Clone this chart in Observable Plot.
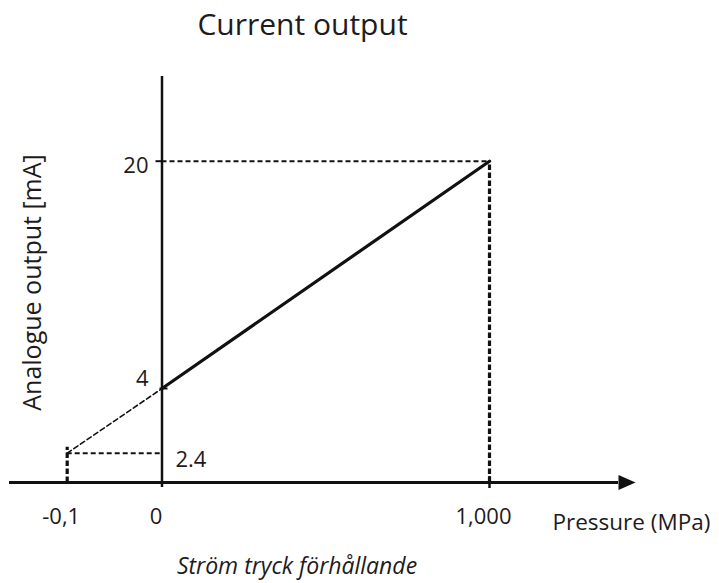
<!DOCTYPE html>
<html>
<head>
<meta charset="utf-8">
<script src="https://cdn.jsdelivr.net/npm/d3@7"></script>
<script src="https://cdn.jsdelivr.net/npm/@observablehq/plot@0.6"></script>
<style>
  html, body { margin: 0; padding: 0; background: #fff; }
</style>
</head>
<body>
<div id="chart"></div>
<script>
// ---- data ----
const titleText = "Current output";
const yLabelText = "Analogue output [mA]";
const xLabelText = "Pressure (MPa)";
const captionText = "Ström tryck förhållande";

// pressure (MPa) and current (mA) of the transfer characteristic
const pressure = [0, 1];          // measuring range
const current = [4, 20];          // output range
const extrapPressure = [-0.1, 0]; // extrapolated below zero
const extrapCurrent = [2.4, 4];

const xTicks = [-0.1, 0, 1];
const xTickLabels = ["-0,1", "0", "1,000"];

// ---- schematic (non-proportional) piecewise warps, used as scale transforms ----
const warpX = d3.scaleLinear().domain([-0.1, 0, 1]).range([66.7, 161.5, 489]);
const warpY = d3.scaleLinear().domain([0, 2.4, 4, 20]).range([482, 452.7, 388, 160.7]);

const segMain = pressure.map((p, i) => ({p, c: current[i]}));
const segExtrap = extrapPressure.map((p, i) => ({p, c: extrapCurrent[i]}));

const ink = "#111";
const txt = "#1e1b1c";

const arrowHead = {
  draw(context) {
    context.moveTo(8.5, 0);
    context.lineTo(-8.5, -7.5);
    context.lineTo(-8.5, 7.5);
    context.closePath();
  }
};

const T = {fill: txt, lineAnchor: "middle"};

const chart = Plot.plot({
  width: 719,
  height: 583,
  marginTop: 76,
  marginBottom: 101,
  marginLeft: 9,
  marginRight: 101,
  style: {fontFamily: "'Open Sans', sans-serif", background: "#fff", color: txt},
  x: {transform: warpX, domain: [0, 719], range: [0, 719], axis: null},
  y: {transform: warpY, domain: [0, 583], range: [0, 583], axis: null},
  marks: [
    // guide lines
    Plot.ruleY([extrapCurrent[0]], {x1: extrapPressure[0], x2: 0, stroke: ink, strokeWidth: 2, strokeDasharray: "5,3"}),
    Plot.ruleX([extrapPressure[0]], {y1: 0, y2: extrapCurrent[0], stroke: ink, strokeWidth: 3.2, strokeDasharray: "5.5,2.5", insetBottom: 6}),
    Plot.ruleY([current[1]], {x1: 0, x2: pressure[1], stroke: ink, strokeWidth: 2, strokeDasharray: "5,3"}),
    Plot.ruleX([pressure[1]], {y1: 0, y2: current[1], stroke: ink, strokeWidth: 3.2, strokeDasharray: "5.5,2.5"}),
    // extrapolated part
    Plot.line(segExtrap, {x: "p", y: "c", stroke: ink, strokeWidth: 1.6, strokeDasharray: "5,3"}),
    // axes
    Plot.ruleX([0], {stroke: ink, strokeWidth: 2.5, insetBottom: -5}),
    Plot.ruleY([0], {stroke: ink, strokeWidth: 3}),
    Plot.dot([0], {y: d => d, frameAnchor: "right", symbol: arrowHead, r: 5, fill: ink, stroke: "none", dx: 8.5}),
    // ticks
    Plot.ruleY([current[1]], {x1: 0, x2: 0, insetLeft: -6, stroke: ink, strokeWidth: 2}),
    Plot.ruleY([current[0]], {x1: 0, x2: 0, insetLeft: -2, insetRight: -6, stroke: ink, strokeWidth: 2}),
    Plot.ruleX([pressure[1]], {y1: 0, y2: 0, insetTop: -6, insetBottom: -6, stroke: ink, strokeWidth: 2.5}),
    // main characteristic
    Plot.line(segMain, {x: "p", y: "c", stroke: ink, strokeWidth: 3.2}),
    // y tick labels
    Plot.text([current[1]], {...T, x: 0, y: d => d, text: d => String(d), textAnchor: "end", dx: -13.5, dy: 5, fontSize: 22}),
    Plot.text([current[0]], {...T, x: 0, y: d => d, text: d => String(d), textAnchor: "end", dx: -13.5, dy: -10, fontSize: 22}),
    Plot.text([extrapCurrent[0]], {...T, x: 0, y: d => d, text: d => String(d), textAnchor: "start", dx: 13.5, dy: 7, fontSize: 22}),
    // x tick labels
    Plot.text(xTicks, {...T, x: d => d, y: 0, text: (d, i) => xTickLabels[i], textAnchor: "middle", dy: 34, dx: -6, fontSize: 22}),
    // axis titles
    Plot.text([xLabelText], {...T, text: d => d, frameAnchor: "bottom-right", textAnchor: "start", dx: -66, dy: 40, fontSize: 22.5}),
    Plot.text([yLabelText], {...T, text: d => d, frameAnchor: "left", textAnchor: "middle", rotate: -90, dx: 23, dy: 3, fontSize: 25}),
    Plot.text([titleText], {...T, text: d => d, frameAnchor: "top", textAnchor: "middle", dx: -11.5, dy: -51, fontSize: 30}),
    Plot.text([captionText], {...T, text: d => d, frameAnchor: "bottom", textAnchor: "middle", dx: -17, dy: 84, fontSize: 23, fontStyle: "italic"})
  ]
});
document.getElementById("chart").appendChild(chart);
</script>
</body>
</html>
